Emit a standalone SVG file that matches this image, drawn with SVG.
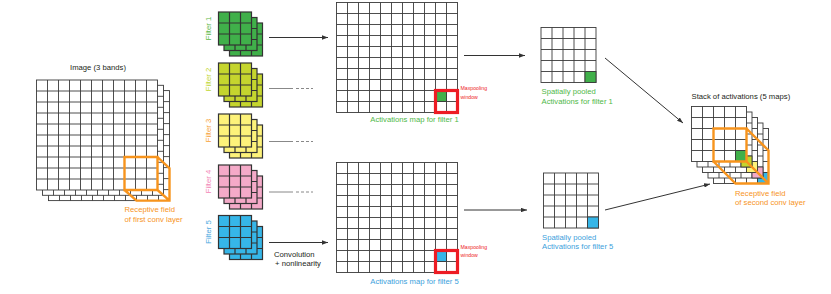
<svg xmlns="http://www.w3.org/2000/svg" xmlns:xlink="http://www.w3.org/1999/xlink" width="831" height="294" viewBox="0 0 831 294">
<style>
.grid{fill:#fff;stroke:#3a3a3a;stroke-width:0.9}
.fg{stroke:#333;stroke-width:1.2}
.cell{stroke:#3a3a3a;stroke-width:0.9}
.rf{fill:none;stroke:#f7941d;stroke-width:2.4;stroke-linejoin:miter}
.mp{fill:none;stroke:#ed1c24;stroke-width:3.2}
.con{fill:none;stroke:#333;stroke-width:1}
.dash{fill:none;stroke:#888;stroke-width:1}
.dots{fill:none;stroke:#888;stroke-width:1;stroke-dasharray:3 2}
text{font-family:"Liberation Sans",Arial,sans-serif;font-size:7.7px}
.dark{fill:#231f20}
.or{fill:#f7941d}
.red{fill:#ed1c24;font-size:5.2px}
.gr{fill:#4fb848}
.bl{fill:#3d9fdc}
</style>
<defs>
<g id="g11">
<rect width="121" height="110"/>
<path fill="none" d="M11 0V110M22 0V110M33 0V110M44 0V110M55 0V110M66 0V110M77 0V110M88 0V110M99 0V110M110 0V110M0 11H121M0 22H121M0 33H121M0 44H121M0 55H121M0 66H121M0 77H121M0 88H121M0 99H121"/>
</g>
<g id="g5">
<rect width="55" height="55"/>
<path fill="none" d="M11 0V55M22 0V55M33 0V55M44 0V55M0 11H55M0 22H55M0 33H55M0 44H55"/>
</g>
<g id="g3">
<rect width="33" height="33"/>
<path fill="none" d="M11 0V33M22 0V33M0 11H33M0 22H33"/>
</g>
<marker id="ah" viewBox="0 0 6 4.4" refX="6" refY="2.2" markerWidth="6" markerHeight="4.4" orient="auto" markerUnits="userSpaceOnUse">
<path d="M0 0L6 2.2L0 4.4z" fill="#333"/>
</marker>
</defs>

<g id="image">
<use href="#g11" x="48.5" y="90.6" class="grid"/>
<use href="#g11" x="42.5" y="85.3" class="grid"/>
<use href="#g11" x="36.5" y="80" class="grid"/>
<path class="rf" d="M124.5 157H157.5V190H124.5Z M157.5 157L169.5 168.3V200.6H136.5L124.5 190 M157.5 190L169.5 200.6"/>
<text x="98" y="70" text-anchor="middle" class="dark">Image (3 bands)</text>
<text x="124.5" y="212" class="or">Receptive field</text>
<text x="124.5" y="221.5" class="or">of first conv layer</text>
</g>

<g id="filter1">
<use href="#g3" x="229.5" y="23" class="fg" fill="#40b04a"/>
<use href="#g3" x="224" y="17.5" class="fg" fill="#40b04a"/>
<use href="#g3" x="218.5" y="12" class="fg" fill="#40b04a"/>
<text transform="translate(210.5,28.5) rotate(-90)" text-anchor="middle" fill="#5db847" font-size="7.5">Filter 1</text>
</g>
<g id="filter2">
<use href="#g3" x="229.5" y="74" class="fg" fill="#c5d52e"/>
<use href="#g3" x="224" y="68.5" class="fg" fill="#c5d52e"/>
<use href="#g3" x="218.5" y="63" class="fg" fill="#c5d52e"/>
<text transform="translate(210.5,79.5) rotate(-90)" text-anchor="middle" fill="#bfd630" font-size="7.5">Filter 2</text>
</g>
<g id="filter3">
<use href="#g3" x="229.5" y="125" class="fg" fill="#fdf27a"/>
<use href="#g3" x="224" y="119.5" class="fg" fill="#fdf27a"/>
<use href="#g3" x="218.5" y="114" class="fg" fill="#fdf27a"/>
<text transform="translate(210.5,130.5) rotate(-90)" text-anchor="middle" fill="#f7a234" font-size="7.5">Filter 3</text>
</g>
<g id="filter4">
<use href="#g3" x="229.5" y="176" class="fg" fill="#f4aac8"/>
<use href="#g3" x="224" y="170.5" class="fg" fill="#f4aac8"/>
<use href="#g3" x="218.5" y="165" class="fg" fill="#f4aac8"/>
<text transform="translate(210.5,181.5) rotate(-90)" text-anchor="middle" fill="#f285b5" font-size="7.5">Filter 4</text>
</g>
<g id="filter5">
<use href="#g3" x="229.5" y="226.5" class="fg" fill="#36b6e8"/>
<use href="#g3" x="224" y="221" class="fg" fill="#36b6e8"/>
<use href="#g3" x="218.5" y="215.5" class="fg" fill="#36b6e8"/>
<text transform="translate(210.5,232) rotate(-90)" text-anchor="middle" fill="#47a8e0" font-size="7.5">Filter 5</text>
</g>

<g id="conv-label">
<text x="274" y="256.5" class="dark">Convolution</text>
<text x="275" y="265.5" class="dark">+ nonlinearity</text>
</g>

<g id="actmap1">
<use href="#g11" x="336.5" y="2.5" class="grid"/>
<rect x="435.5" y="90.5" width="11" height="11" fill="#40b04a" class="cell"/>
<rect x="435.5" y="90.5" width="22" height="22" class="mp"/>
<text x="460.5" y="90" class="red">Maxpooling</text>
<text x="460.5" y="98.5" class="red">window</text>
<text x="414.5" y="122" text-anchor="middle" class="gr">Activations map for filter 1</text>
</g>

<g id="actmap5">
<use href="#g11" x="336.5" y="162.5" class="grid"/>
<rect x="435.5" y="250.5" width="11" height="11" fill="#36b6e8" class="cell"/>
<rect x="435.5" y="250.5" width="22" height="22" class="mp"/>
<text x="460.5" y="248.5" class="red">Maxpooling</text>
<text x="460.5" y="257" class="red">window</text>
<text x="414.5" y="283.5" text-anchor="middle" class="bl">Activations map for filter 5</text>
</g>

<g id="pooled1">
<use href="#g5" x="541" y="27.5" class="grid"/>
<rect x="585" y="71.5" width="11" height="11" fill="#40b04a" class="cell"/>
<text x="541.5" y="94" class="gr">Spatially pooled</text>
<text x="541.5" y="103.5" class="gr">Activations for filter 1</text>
</g>

<g id="pooled5">
<use href="#g5" x="543.5" y="173" class="grid"/>
<rect x="587.5" y="217" width="11" height="11" fill="#36b6e8" class="cell"/>
<text x="542" y="239.5" class="bl">Spatially pooled</text>
<text x="542" y="248.5" class="bl">Activations for filter 5</text>
</g>

<g id="stack">
<use href="#g5" x="713.5" y="128.5" class="grid"/>
<rect x="757.5" y="172.5" width="11" height="11" fill="#36b6e8" class="cell"/>
<use href="#g5" x="708" y="123" class="grid"/>
<rect x="752" y="167" width="11" height="11" fill="#f4aac8" class="cell"/>
<use href="#g5" x="702.5" y="117.5" class="grid"/>
<rect x="746.5" y="161.5" width="11" height="11" fill="#fdf27a" class="cell"/>
<use href="#g5" x="697" y="112" class="grid"/>
<rect x="741" y="156" width="11" height="11" fill="#c5d52e" class="cell"/>
<use href="#g5" x="691.5" y="106.5" class="grid"/>
<rect x="735.5" y="150.5" width="11" height="11" fill="#40b04a" class="cell"/>
<path class="rf" d="M713.5 128.5H746.5V161.5H713.5Z M746.5 128.5L768.5 150.5V183.5H735.5L713.5 161.5 M746.5 161.5L768.5 183.5"/>
<text x="691.5" y="98.5" class="dark">Stack of activations (5 maps)</text>
<text x="735" y="195.5" class="or">Receptive field</text>
<text x="735" y="205" class="or">of second conv layer</text>
</g>

<g id="connectors">
<path id="c-f1" class="con" d="M269 37.5H328" marker-end="url(#ah)"/>
<g id="c-f2"><path class="dash" d="M269 88.5H293"/><path class="dots" d="M296 88.5H313"/></g>
<g id="c-f3"><path class="dash" d="M269 141.5H293"/><path class="dots" d="M296 141.5H313"/></g>
<g id="c-f4"><path class="dash" d="M269 192H293"/><path class="dots" d="M296 192H313"/></g>
<path id="c-f5" class="con" d="M269 242.5H328" marker-end="url(#ah)"/>
<path id="c-m1" class="con" d="M464 55.5H525" marker-end="url(#ah)"/>
<path id="c-m5" class="con" d="M464 210H527" marker-end="url(#ah)"/>
<path id="c-p1" class="con" d="M605 58L683 123" marker-end="url(#ah)"/>
<path id="c-p5" class="con" d="M605 210L710 184" marker-end="url(#ah)"/>
</g>
</svg>
